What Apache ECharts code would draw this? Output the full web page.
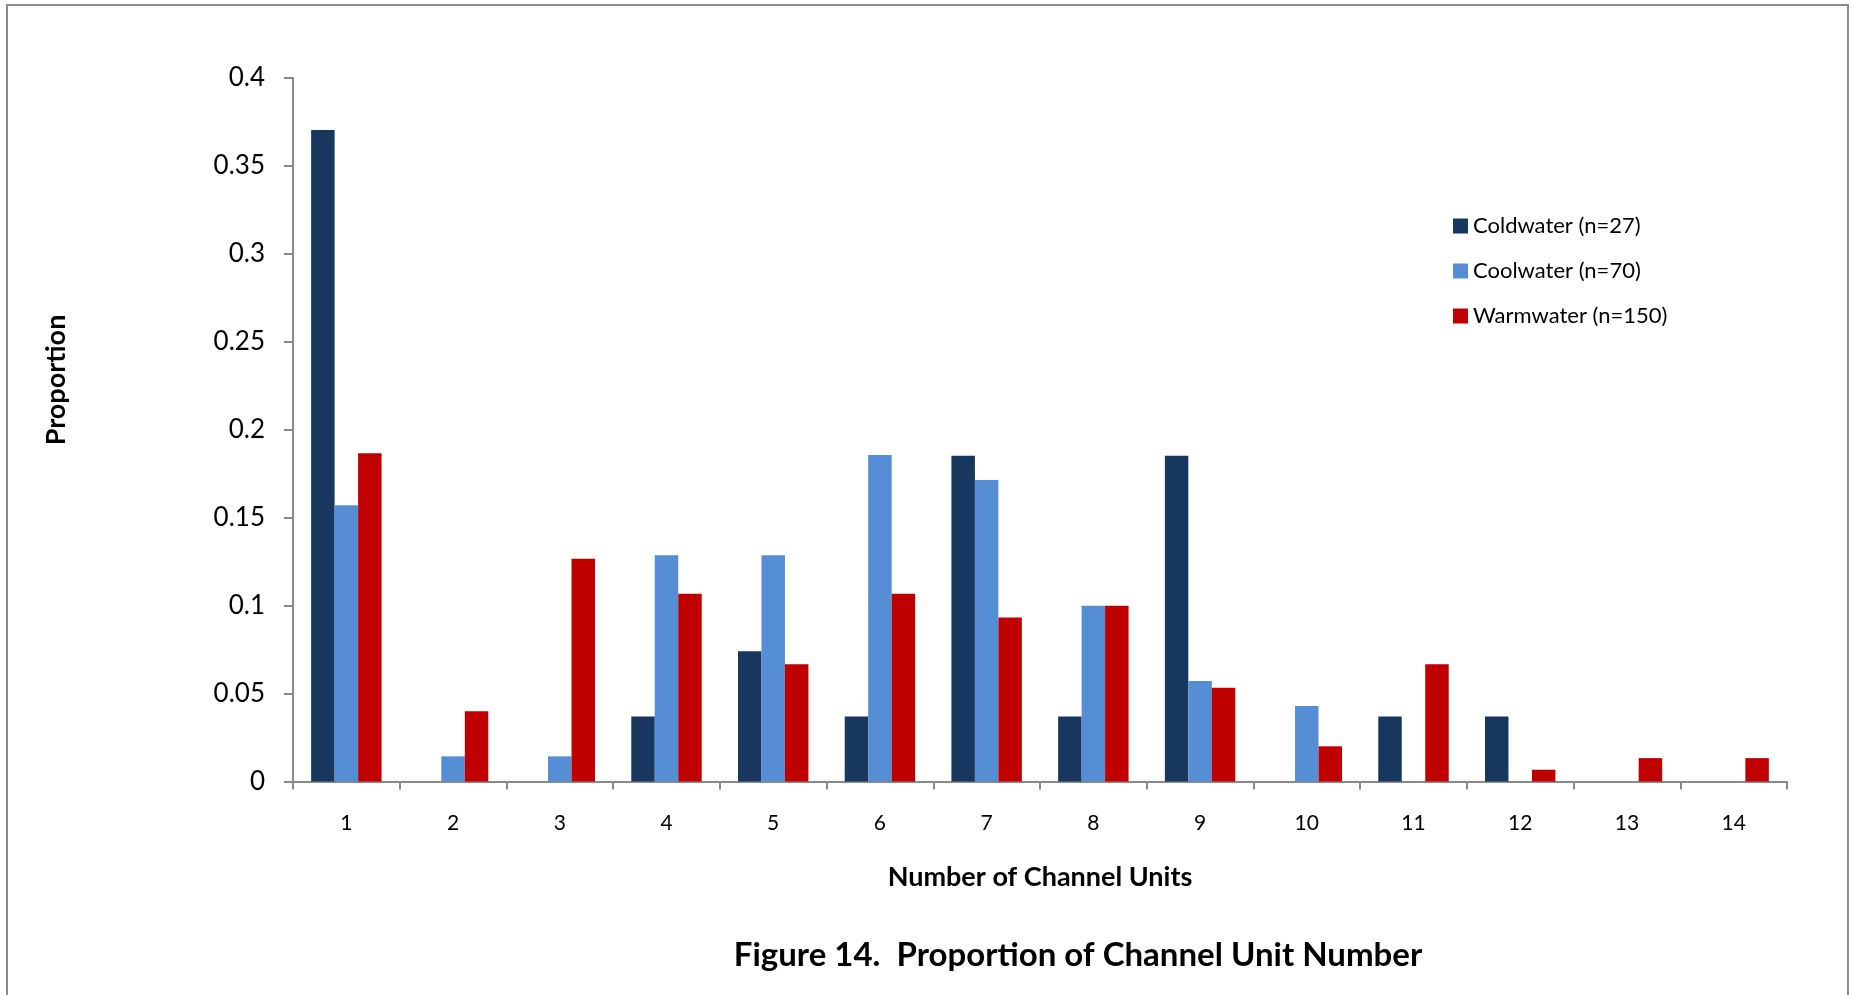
<!DOCTYPE html>
<html>
<head>
<meta charset="utf-8">
<script src="https://cdn.jsdelivr.net/npm/echarts@6/dist/echarts.min.js"></script>
<style>
  html, body { margin: 0; padding: 0; background: #fff; }
  #chart { width: 1851px; height: 995px; }
</style>
</head>
<body>
<div id="chart"></div>
<script>
// Channel unit counts (x categories)
const categories = ['1','2','3','4','5','6','7','8','9','10','11','12','13','14'];

// Proportion of sites per number of channel units
const coldwater = [0.3704, 0, 0, 0.0370, 0.0741, 0.0370, 0.1852, 0.0370, 0.1852, 0, 0.0370, 0.0370, 0, 0];
const coolwater = [0.1571, 0.0143, 0.0143, 0.1286, 0.1286, 0.1857, 0.1714, 0.1000, 0.0571, 0.0429, 0, 0, 0, 0];
const warmwater = [0.1867, 0.0400, 0.1267, 0.1067, 0.0667, 0.1067, 0.0933, 0.1000, 0.0533, 0.0200, 0.0667, 0.0067, 0.0133, 0.0133];

const seriesNames = ['Coldwater (n=27)', 'Coolwater (n=70)', 'Warmwater (n=150)'];
const colors = ['#17375E', '#558ED5', '#C00000'];

const FONT = 'Lato, "Open Sans", sans-serif';
const axisGray = '#8a8a8a';

const chart = echarts.init(document.getElementById('chart'), null, { renderer: 'canvas' });

chart.setOption({
  animation: false,
  backgroundColor: '#ffffff',
  textStyle: { fontFamily: FONT, color: '#000' },
  grid: { left: 293, right: 64, top: 78, bottom: 213.5, containLabel: false },
  legend: {
    orient: 'vertical',
    left: 1448,
    top: 210,
    icon: 'rect',
    itemWidth: 15,
    itemHeight: 15,
    itemGap: 23,
    textStyle: { fontFamily: FONT, fontSize: 22, color: '#000', lineHeight: 22 },
    data: seriesNames
  },
  xAxis: {
    type: 'category',
    data: categories,
    boundaryGap: true,
    name: 'Number of Channel Units',
    nameLocation: 'middle',
    nameGap: 82,
    nameTextStyle: { fontFamily: FONT, fontSize: 27, fontWeight: 'bold', color: '#000' },
    axisLine: { lineStyle: { color: axisGray, width: 2 } },
    axisTick: { show: true, inside: false, length: 8, alignWithLabel: false, lineStyle: { color: axisGray, width: 2 } },
    axisLabel: { fontFamily: FONT, fontSize: 21, color: '#000', margin: 31 },
    splitLine: { show: false }
  },
  yAxis: {
    type: 'value',
    min: 0,
    max: 0.4,
    interval: 0.05,
    axisLine: { show: true, lineStyle: { color: axisGray, width: 2 } },
    axisTick: { show: true, inside: false, length: 9, lineStyle: { color: axisGray, width: 2 } },
    axisLabel: {
      fontFamily: FONT, fontSize: 26, color: '#000', margin: 28,
      formatter: v => String(+v.toFixed(2))
    },
    splitLine: { show: false }
  },
  series: [
    { name: seriesNames[0], type: 'bar', data: coldwater, itemStyle: { color: colors[0] }, barGap: '0%', barCategoryGap: '34%' },
    { name: seriesNames[1], type: 'bar', data: coolwater, itemStyle: { color: colors[1] }, barGap: '0%', barCategoryGap: '34%' },
    { name: seriesNames[2], type: 'bar', data: warmwater, itemStyle: { color: colors[2] }, barGap: '0%', barCategoryGap: '34%' }
  ],
  graphic: [
    {
      type: 'rect',
      silent: true,
      z: -1,
      shape: { x: 7, y: 5, width: 1841, height: 1010 },
      style: { fill: 'none', stroke: '#8c8c8c', lineWidth: 2 }
    },
    {
      type: 'text',
      x: 56,
      y: 380,
      rotation: Math.PI / 2,
      style: {
        text: 'Proportion',
        font: 'bold 27px ' + FONT,
        fill: '#000',
        textAlign: 'center',
        textVerticalAlign: 'middle'
      }
    },
    {
      type: 'text',
      x: 1078,
      y: 955,
      style: {
        text: 'Figure 14.  Proportion of Channel Unit Number',
        font: 'bold 33px ' + FONT,
        fill: '#000',
        textAlign: 'center',
        textVerticalAlign: 'middle'
      }
    }
  ]
});
</script>
</body>
</html>
